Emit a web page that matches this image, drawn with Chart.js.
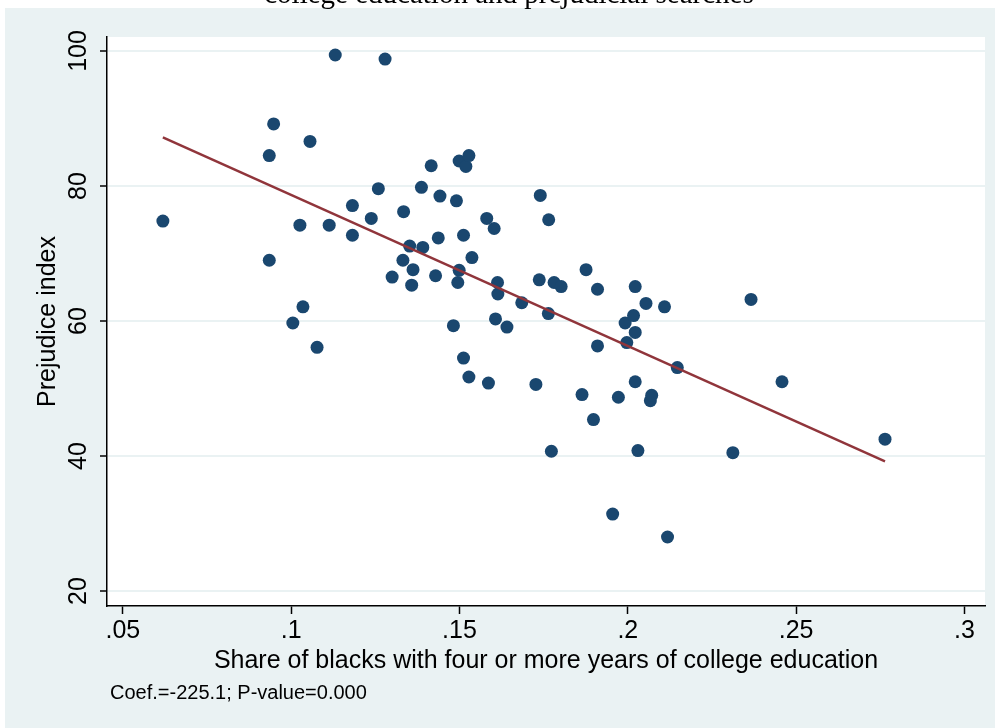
<!DOCTYPE html>
<html>
<head>
<meta charset="utf-8">
<script src="https://cdn.jsdelivr.net/npm/chart.js@4.4.0/dist/chart.umd.min.js"></script>
<style>
  html, body { margin: 0; padding: 0; background: #ffffff; }
  #wrap { position: relative; width: 995px; height: 728px; overflow: hidden; }
  #c { position: absolute; left: 0; top: 0; }
  #title { position: absolute; left: 0; width: 1018px; top: -23px; text-align: center;
           font-family: "Liberation Serif", "Times New Roman", serif; font-size: 29px; color: #000; z-index: 2; }
  #note { position: absolute; left: 110px; top: 681px; font-family: "Liberation Sans", Arial, sans-serif;
          font-size: 20px; color: #000; z-index: 2; }
</style>
</head>
<body>
<div id="wrap">
  <canvas id="c" width="995" height="728"></canvas>
  <div id="title">college education and prejudicial searches</div>
  <div id="note">Coef.=-225.1; P-value=0.000</div>
</div>
<script>
// Share of blacks with four or more years of college education
const shareCollege = [
  0.0619, 0.0935, 0.0948, 0.0935, 0.1005, 0.1035, 0.1026, 0.1056, 0.1077, 0.1113,
  0.1131, 0.1182, 0.1182, 0.1238, 0.1259, 0.1279, 0.1300, 0.1332, 0.1334, 0.1352,
  0.1358, 0.1362, 0.1387, 0.1391, 0.1416, 0.1429, 0.1437, 0.1442, 0.1482, 0.1491,
  0.1495, 0.1499, 0.1499, 0.1512, 0.1512, 0.1519, 0.1528, 0.1528, 0.1537, 0.1581,
  0.1586, 0.1603, 0.1607, 0.1613, 0.1614, 0.1641, 0.1685, 0.1727, 0.1737, 0.1740,
  0.1764, 0.1765, 0.1773, 0.1781, 0.1802, 0.1864, 0.1876, 0.1898, 0.1910, 0.1910,
  0.1955, 0.1972, 0.1992, 0.1997, 0.2017, 0.2022, 0.2022, 0.2022, 0.2030, 0.2054,
  0.2067, 0.2071, 0.2109, 0.2118, 0.2147, 0.2312, 0.2366, 0.2458, 0.2764
];
// Prejudice index
const prejudiceIndex = [
  74.8, 84.5, 89.2, 69.0, 59.7, 62.1, 74.2, 86.6, 56.1, 74.2,
  99.4, 77.1, 72.7, 75.2, 79.6, 98.8, 66.5, 69.0, 76.2, 71.1,
  65.3, 67.6, 79.8, 70.9, 83.0, 66.7, 72.3, 78.5, 59.3, 77.8,
  65.7, 67.5, 83.7, 72.7, 54.5, 82.9, 84.5, 51.7, 69.4, 75.2,
  50.8, 73.7, 60.3, 65.7, 64.0, 59.1, 62.7, 50.6, 66.1, 78.6,
  61.1, 75.0, 40.7, 65.7, 65.1, 49.1, 67.6, 45.4, 64.7, 56.3,
  31.4, 48.7, 59.7, 56.8, 60.8, 65.1, 58.3, 51.0, 40.8, 62.6,
  48.2, 49.0, 62.1, 28.0, 53.1, 40.5, 63.2, 51.0, 42.5
];
// Fitted line end points
const fitX = [0.0619, 0.2764];
const fitY = [87.2, 39.2];

const xTickValues = [0.05, 0.10, 0.15, 0.20, 0.25, 0.30];
const xTickLabels = [".05", ".1", ".15", ".2", ".25", ".3"];
const yTickValues = [20, 40, 60, 80, 100];
const yTickLabels = ["20", "40", "60", "80", "100"];

const xTitle = "Share of blacks with four or more years of college education";
const yTitle = "Prejudice index";

const BG = "#EAF2F3";
const FONT = "'Liberation Sans', Arial, sans-serif";

const bgPlugin = {
  id: "bg",
  beforeDraw(chart) {
    const ctx = chart.ctx;
    const a = chart.chartArea;
    ctx.save();
    ctx.fillStyle = "#ffffff";
    ctx.fillRect(0, 0, chart.width, chart.height);
    ctx.fillStyle = BG;
    ctx.fillRect(5, 8, chart.width - 5, chart.height - 8);
    ctx.fillStyle = "#ffffff";
    ctx.fillRect(a.left, a.top, a.right - a.left, a.bottom - a.top);
    ctx.restore();
  }
};

const scatterPts = shareCollege.map((v, i) => ({ x: v, y: prejudiceIndex[i] }));
const fitPts = fitX.map((v, i) => ({ x: v, y: fitY[i] }));

new Chart(document.getElementById("c"), {
  type: "scatter",
  data: {
    datasets: [
      {
        type: "line",
        label: "Fitted values",
        data: fitPts,
        borderColor: "#90353B",
        borderWidth: 2.5,
        pointRadius: 0,
        fill: false,
        order: 0
      },
      {
        label: "Prejudice index",
        data: scatterPts,
        backgroundColor: "#1A476F",
        borderColor: "#1A476F",
        pointRadius: 6.5,
        pointHoverRadius: 6.5,
        borderWidth: 0,
        order: 1
      }
    ]
  },
  options: {
    responsive: false,
    animation: false,
    events: [],
    layout: { padding: { top: 37, right: 10, left: 0, bottom: 52 } },
    plugins: { legend: { display: false }, tooltip: { enabled: false } },
    scales: {
      x: {
        type: "linear",
        min: 0.0453,
        max: 0.3061,
        afterBuildTicks: (s) => { s.ticks = xTickValues.map(v => ({ value: v })); },
        afterFit: (s) => { s.height = 70; },
        ticks: {
          autoSkip: false,
          maxRotation: 0,
          color: "#000",
          font: { family: FONT, size: 25 },
          padding: 2,
          callback: (v, i) => xTickLabels[i]
        },
        grid: { drawOnChartArea: false, tickColor: "#000", tickLength: 8, tickWidth: 1.5 },
        border: { display: true, color: "#000", width: 1.5 },
        title: {
          display: true, text: xTitle, color: "#000",
          font: { family: FONT, size: 25 }, padding: { top: 0, bottom: 0 }
        }
      },
      y: {
        type: "linear",
        min: 17.78,
        max: 102.07,
        afterBuildTicks: (s) => { s.ticks = yTickValues.map(v => ({ value: v })); },
        afterFit: (s) => { s.width = 107; },
        ticks: {
          autoSkip: false,
          minRotation: 90,
          maxRotation: 90,
          crossAlign: "center",
          color: "#000",
          font: { family: FONT, size: 25 },
          padding: 0,
          callback: (v, i) => yTickLabels[i]
        },
        grid: { color: BG, lineWidth: 2, tickColor: "#000", tickLength: 7, tickWidth: 1.5 },
        border: { display: true, color: "#000", width: 1.5 },
        title: {
          display: true, text: yTitle, color: "#000",
          font: { family: FONT, size: 25 }, padding: { top: 33, bottom: 0 }
        }
      }
    }
  },
  plugins: [bgPlugin]
});
</script>
</body>
</html>
